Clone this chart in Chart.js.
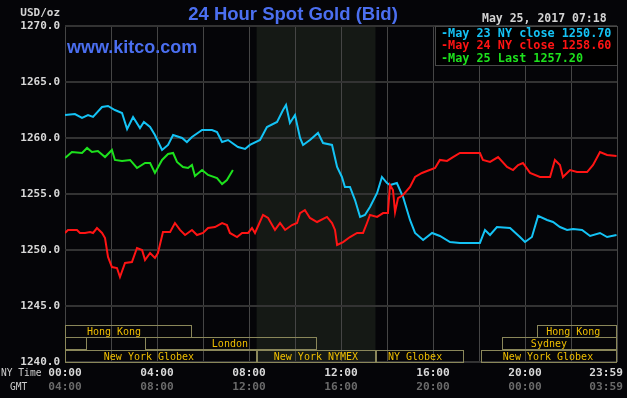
<!DOCTYPE html>
<html>
<head>
<meta charset="utf-8">
<script src="https://cdn.jsdelivr.net/npm/chart.js@4.4.1/dist/chart.umd.min.js"></script>
<style>
    html, body { margin: 0; padding: 0; background: #050508; }
    #wrap { width: 627px; height: 398px; }
</style>
</head>
<body>
<div id="wrap"><canvas id="gold-chart" width="627" height="398"></canvas></div>
<script>
// hours after NY midnight, bid price
const may23Hours = [0.00,0.43,0.74,1.00,1.22,1.61,1.87,2.17,2.48,2.70,2.96,3.26,3.43,3.70,3.91,4.22,4.48,4.70,5.09,5.30,5.52,5.96,6.39,6.61,6.83,7.09,7.52,7.83,8.04,8.48,8.78,9.22,9.48,9.61,9.78,10.00,10.22,10.35,10.65,11.00,11.22,11.61,11.83,12.04,12.17,12.39,12.61,12.83,13.04,13.26,13.57,13.78,14.00,14.13,14.43,14.70,15.00,15.22,15.57,15.96,16.30,16.74,17.17,18.04,18.26,18.48,18.78,19.35,19.78,20.00,20.30,20.57,20.96,21.22,21.52,21.83,22.09,22.48,22.83,23.26,23.57,23.98];
const may23Prices = [1262.05,1262.14,1261.79,1262.05,1261.88,1262.77,1262.86,1262.50,1262.23,1260.80,1261.88,1260.89,1261.43,1260.98,1260.27,1258.93,1259.38,1260.27,1260.00,1259.64,1260.09,1260.71,1260.71,1260.54,1259.64,1259.82,1259.20,1259.02,1259.38,1259.82,1260.98,1261.43,1262.50,1262.95,1261.34,1262.05,1260.00,1259.38,1259.82,1260.45,1259.55,1259.38,1257.41,1256.52,1255.63,1255.63,1254.46,1252.95,1253.13,1253.84,1255.09,1256.52,1255.98,1255.80,1255.98,1254.73,1252.68,1251.52,1250.89,1251.52,1251.25,1250.71,1250.63,1250.63,1251.79,1251.34,1252.05,1251.96,1251.16,1250.71,1251.16,1253.04,1252.68,1252.50,1252.05,1251.79,1251.88,1251.79,1251.25,1251.52,1251.16,1251.34];

const may24Hours = [0.00,0.13,0.52,0.65,0.87,1.09,1.22,1.39,1.61,1.74,1.87,2.04,2.26,2.39,2.61,2.91,3.13,3.35,3.48,3.70,3.91,4.04,4.26,4.57,4.78,5.00,5.22,5.52,5.74,6.00,6.22,6.52,6.83,7.04,7.17,7.48,7.70,7.96,8.13,8.26,8.61,8.83,9.13,9.35,9.57,9.87,10.09,10.22,10.43,10.65,10.96,11.39,11.61,11.74,11.83,12.09,12.39,12.70,12.96,13.13,13.26,13.57,13.83,14.04,14.13,14.26,14.35,14.48,14.70,15.00,15.22,15.52,15.74,16.09,16.30,16.61,16.87,17.17,18.04,18.17,18.48,18.83,19.22,19.48,19.70,19.91,20.22,20.65,21.09,21.30,21.52,21.65,21.96,22.26,22.70,22.96,23.26,23.57,23.98];
const may24Prices = [1251.52,1251.79,1251.79,1251.52,1251.52,1251.61,1251.52,1251.96,1251.52,1251.07,1249.38,1248.48,1248.39,1247.59,1248.84,1248.93,1250.18,1250.00,1249.11,1249.73,1249.29,1249.73,1251.61,1251.61,1252.41,1251.79,1251.34,1251.79,1251.34,1251.52,1251.96,1252.05,1252.41,1252.23,1251.52,1251.16,1251.52,1251.52,1251.96,1251.52,1253.13,1252.86,1251.79,1252.41,1251.79,1252.23,1252.41,1253.30,1253.57,1252.86,1252.50,1252.95,1252.41,1251.79,1250.45,1250.71,1251.16,1251.52,1251.52,1252.41,1253.13,1252.95,1253.30,1253.30,1255.80,1255.36,1253.39,1254.64,1254.91,1255.63,1256.52,1256.88,1257.05,1257.32,1258.04,1257.95,1258.30,1258.66,1258.66,1258.04,1257.86,1258.30,1257.41,1257.14,1257.59,1257.77,1256.88,1256.52,1256.52,1258.04,1257.59,1256.52,1257.14,1256.96,1256.96,1257.59,1258.75,1258.48,1258.39];

const may25Hours = [0.00,0.30,0.74,0.96,1.17,1.43,1.74,2.04,2.17,2.48,2.83,3.13,3.48,3.70,3.91,4.22,4.48,4.70,4.87,5.13,5.35,5.52,5.65,5.96,6.22,6.61,6.83,7.04,7.30];
const may25Prices = [1258.21,1258.75,1258.66,1259.11,1258.75,1258.84,1258.30,1258.93,1258.04,1257.95,1258.04,1257.32,1257.77,1257.77,1256.88,1258.04,1258.57,1258.66,1257.86,1257.41,1257.32,1257.59,1256.61,1257.14,1256.70,1256.43,1255.89,1256.25,1257.14];

const legendLines = ['-May 23 NY close 1250.70', '-May 24 NY close 1258.60', '-May 25 Last 1257.20'];
const tickHours = [0, 4, 8, 12, 16, 20, 24];
const nyTimeLabels = ['00:00', '04:00', '08:00', '12:00', '16:00', '20:00', '23:59'];
const gmtLabels = ['04:00', '08:00', '12:00', '16:00', '20:00', '00:00', '03:59'];

// trading sessions: row, start hour, end hour, label, hour the label sits on
const sessionRows = [0, 0, 1, 1, 1, 2, 2, 2, 2];
const sessionStarts = [0, 20.5, 0, 3.48, 19.0, 0, 8.33, 13.5, 18.1];
const sessionEnds = [5.52, 24, 0.96, 10.96, 24, 8.33, 13.5, 17.35, 24];
const sessionNames = ['Hong Kong', 'Hong Kong', '', 'London', 'Sydney', 'New York Globex', 'New York NYMEX', 'NY Globex', 'New York Globex'];
const sessionLabelAt = [2.13, 22.1, 0, 7.17, 21.04, 3.65, 10.91, 15.22, 21.0];
const nymexOpen = 8.33;
const nymexClose = 13.5;

const COLORS = { may23: '#14c3f5', may24: '#ff1414', may25: '#1de21d' };
const MONO = '"DejaVu Sans Mono", monospace';

const toPoints = (hours, prices) => hours.map((h, i) => ({ x: h, y: prices[i] }));

const kitcoDecor = {
    id: 'kitcoDecor',
    beforeDraw(chart) {
        const { ctx, chartArea: a, scales: { x } } = chart;
        ctx.save();
        ctx.fillStyle = '#050508';
        ctx.fillRect(0, 0, chart.width, chart.height);
        ctx.fillStyle = '#151915';
        const x0 = x.getPixelForValue(nymexOpen);
        const x1 = x.getPixelForValue(nymexClose);
        ctx.fillRect(x0, a.top, x1 - x0, a.bottom - a.top);
        ctx.restore();
    },
    afterDraw(chart) {
        const { ctx, chartArea: a, scales: { x } } = chart;
        ctx.save();

        // session boxes
        const rowH = 12.3;
        const top0 = a.bottom - rowH * 3;
        ctx.lineWidth = 1;
        ctx.font = '10px ' + MONO;
        ctx.textBaseline = 'middle';
        ctx.textAlign = 'center';
        sessionRows.forEach((row, i) => {
            const sx = Math.round(x.getPixelForValue(sessionStarts[i])) + 0.5;
            const ex = Math.round(x.getPixelForValue(sessionEnds[i])) - 0.5;
            const sy = Math.round(top0 + row * rowH) + 0.5;
            ctx.strokeStyle = '#8a875a';
            ctx.strokeRect(sx, sy, ex - sx, Math.round(rowH));
            if (sessionNames[i]) {
                ctx.fillStyle = '#f0bf00';
                ctx.fillText(sessionNames[i], x.getPixelForValue(sessionLabelAt[i]), sy + rowH / 2 + 0.5);
            }
        });

        // legend box
        ctx.fillStyle = '#000';
        ctx.fillRect(435, a.top, 183, 39);
        ctx.strokeStyle = '#484848';
        ctx.strokeRect(435.5, a.top + 0.5, 182, 39);
        ctx.font = 'bold 11.8px ' + MONO;
        ctx.textAlign = 'left';
        const legendColors = [COLORS.may23, COLORS.may24, COLORS.may25];
        legendLines.forEach((txt, i) => {
            ctx.fillStyle = legendColors[i];
            ctx.fillText(txt, 441, a.top + 7.5 + i * 12.5);
        });

        // titles
        ctx.fillStyle = '#4b6ff0';
        ctx.font = 'bold 18.5px "Liberation Sans", Arial, sans-serif';
        ctx.textAlign = 'center';
        ctx.fillText('24 Hour Spot Gold (Bid)', 293, 15);
        ctx.font = 'bold 18px "Liberation Sans", Arial, sans-serif';
        ctx.textAlign = 'left';
        ctx.fillText('www.kitco.com', 67, 48);

        ctx.fillStyle = '#d4d4d4';
        ctx.font = 'bold 11.5px ' + MONO;
        ctx.fillText('May 25, 2017 07:18', 482, 19);
        ctx.font = 'bold 11px ' + MONO;
        ctx.textAlign = 'right';
        ctx.fillText('USD/oz', 60, 13);

        // time axis
        ctx.font = '9.6px ' + MONO;
        ctx.fillStyle = '#cfcfcf';
        ctx.textAlign = 'left';
        ctx.fillText('NY Time', 1, 373);
        ctx.fillText('GMT', 10, 387);
        ctx.font = 'bold 11.2px ' + MONO;
        tickHours.forEach((h, i) => {
            const px = x.getPixelForValue(h);
            const last = i === tickHours.length - 1;
            ctx.textAlign = last ? 'right' : 'center';
            const tx = last ? chart.width - 4 : px;
            ctx.fillStyle = '#d8d8d8';
            ctx.fillText(nyTimeLabels[i], tx, 373);
            ctx.fillStyle = '#6a6a6a';
            ctx.fillText(gmtLabels[i], tx, 387);
        });
        ctx.restore();
    }
};

new Chart(document.getElementById('gold-chart').getContext('2d'), {
    type: 'line',
    data: {
        datasets: [
            { label: 'May 24', data: toPoints(may24Hours, may24Prices), borderColor: COLORS.may24 },
            { label: 'May 23', data: toPoints(may23Hours, may23Prices), borderColor: COLORS.may23 },
            { label: 'May 25', data: toPoints(may25Hours, may25Prices), borderColor: COLORS.may25 }
        ]
    },
    options: {
        responsive: false,
        animation: false,
        events: [],
        layout: { padding: { top: 26, right: 10, left: 0, bottom: 0 } },
        elements: {
            line: { borderWidth: 2, tension: 0 },
            point: { radius: 0 }
        },
        scales: {
            x: {
                type: 'linear',
                min: 0,
                max: 24,
                ticks: { stepSize: 2, display: false },
                grid: { color: '#454545', lineWidth: 1, drawTicks: false },
                border: { display: false },
                afterFit: (scale) => { scale.height = 36; }
            },
            y: {
                min: 1240,
                max: 1270,
                ticks: {
                    stepSize: 5,
                    padding: 5,
                    color: '#d8d8d8',
                    font: { family: MONO, size: 11, weight: 'bold' },
                    callback: (v) => Number(v).toFixed(1)
                },
                grid: { color: '#333333', lineWidth: 2, drawTicks: false },
                border: { display: false },
                afterFit: (scale) => { scale.width = 65; }
            }
        },
        plugins: {
            legend: { display: false },
            tooltip: { enabled: false }
        }
    },
    plugins: [kitcoDecor]
});
</script>
</body>
</html>
